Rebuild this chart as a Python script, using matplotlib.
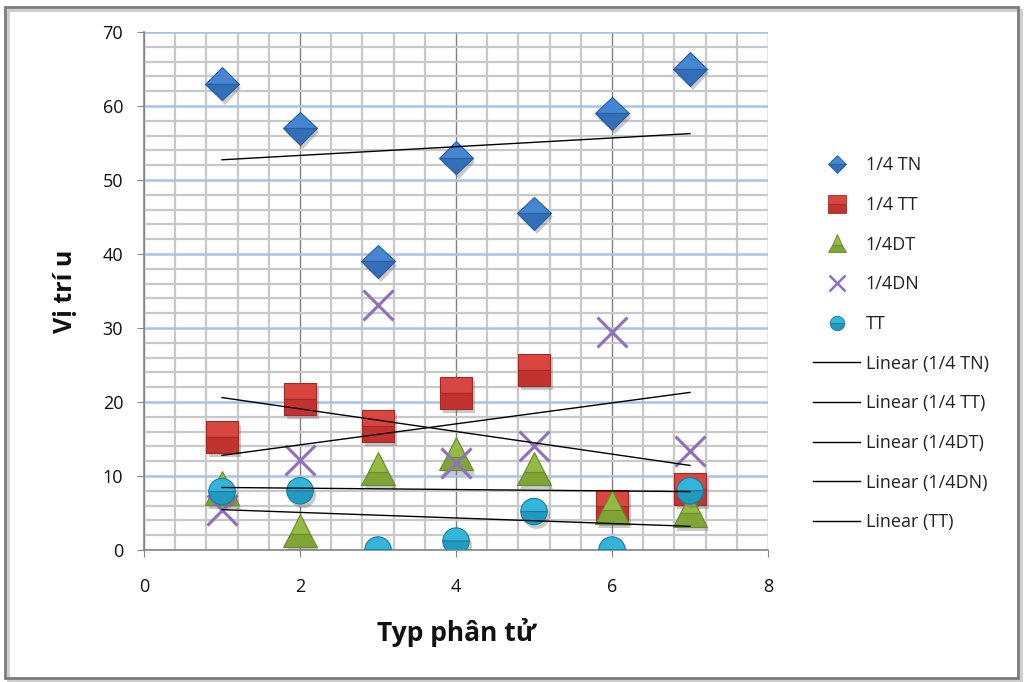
import numpy as np
import matplotlib
matplotlib.use("Agg")
import matplotlib.pyplot as plt
import matplotlib.patheffects as pe
from matplotlib.lines import Line2D
from matplotlib.patches import Rectangle
from matplotlib.ticker import MultipleLocator

plt.rcParams['font.family'] = ['Open Sans', 'DejaVu Sans']

x = [1, 2, 3, 4, 5, 6, 7]
tn_14 = [63, 57, 39, 53, 45.5, 59, 65]
tt_14 = [15.3, 20.4, 16.8, 21.2, 24.3, 5.9, 8.2]
dt_14 = [8.4, 2.6, 11, 13, 11, 5.8, 5.4]
dn_14 = [5.4, 12.1, 33.1, 11.8, 14, 29.5, 13.4]
tt = [7.9, 8.0, 0, 1.2, 5.2, 0, 8.0]

names = ['1/4 TN', '1/4 TT', '1/4DT', '1/4DN', 'TT']
series = [tn_14, tt_14, dt_14, dn_14, tt]
markers = ['D', 's', '^', 'x', 'o']
sizes = [17, 23, 24, 22, 19]
# light (upper half) and dark (lower half) tones for a bevelled look
light = ['#4586d2', '#d9453f', '#95ba44', '#9070ba', '#33b4da']
dark = ['#336fb8', '#c2332f', '#80a536', '#9070ba', '#2299be']
edges = ['#2a5d9e', '#a02a28', '#6a8a2a', '#9070ba', '#1a7c9c']

fig = plt.figure(figsize=(10.24, 6.82), dpi=100)
ax = fig.add_axes([144 / 1024, 132 / 682, 624 / 1024, 518 / 682])

ax.set_xlim(0, 8)
ax.set_ylim(0, 70)
ax.xaxis.set_major_locator(MultipleLocator(2))
ax.xaxis.set_minor_locator(MultipleLocator(0.4))
ax.yaxis.set_major_locator(MultipleLocator(10))
ax.yaxis.set_minor_locator(MultipleLocator(2))

ax.grid(which='minor', axis='both', color='#c8c8c8', lw=1.6)
ax.grid(which='major', axis='x', color='#808080', lw=1.0)
ax.grid(which='major', axis='y', color='#a9c1e4', lw=1.8)
ax.set_axisbelow(True)

for s in ['top', 'right']:
    ax.spines[s].set_visible(False)
for s in ['left', 'bottom']:
    ax.spines[s].set_color('#868686')
    ax.spines[s].set_linewidth(1.2)
ax.tick_params(which='major', direction='out', length=5, color='#868686',
               labelsize=13, labelcolor='#111111')
ax.tick_params(axis='y', pad=10)
ax.tick_params(axis='x', pad=15)
ax.tick_params(which='minor', length=0)

shadow = [pe.SimplePatchShadow(offset=(2, -3), shadow_rgbFace='#666666', alpha=0.35), pe.Normal()]

for ys, m, ms, lc, dc, ec in zip(series, markers, sizes, light, dark, edges):
    if m == 'x':
        ax.plot(x, ys, ls='none', marker=m, ms=ms, mew=2.2, color=lc, zorder=3)
    else:
        ax.plot(x, ys, ls='none', marker=m, ms=ms, fillstyle='top', mfc=lc,
                mfcalt=dc, mec=ec, mew=0.8, zorder=3, path_effects=shadow)

# linear trend lines for each series
xs = np.array([1, 7])
for ys in series:
    k, b = np.polyfit(x, ys, 1)
    ax.plot(xs, k * xs + b, color='black', lw=1.0, zorder=4)

ax.set_xlabel('Typ phân tử', fontsize=19, fontweight='bold', labelpad=16, color='#111111')
ax.set_ylabel('Vị trí u', fontsize=18, fontweight='bold', labelpad=18, color='#111111')

handles = []
for m, ms, lc, dc, ec in zip(markers, sizes, light, dark, edges):
    if m == 'x':
        handles.append(Line2D([], [], ls='none', marker=m, ms=ms * 0.55, mew=1.8, color=lc))
    else:
        handles.append(Line2D([], [], ls='none', marker=m, ms=ms * 0.55, fillstyle='top',
                              mfc=lc, mfcalt=dc, mec=ec, mew=0.6))
labels = list(names)
for n in names:
    handles.append(Line2D([], [], color='black', lw=1.0))
    labels.append('Linear (%s)' % n)

fig.legend(handles, labels, loc='upper left', bbox_to_anchor=(797 / 1024, 1 - 140 / 682),
           frameon=False, fontsize=13, handlelength=2.6, handletextpad=0.3,
           labelspacing=1.2, labelcolor='#222222')

# outer chart frame with a soft drop shadow
frame = Rectangle((5 / 1024, 4 / 682), 1013 / 1024, 671 / 682, transform=fig.transFigure,
                  fill=False, edgecolor='#7a7a7a', lw=2.0,
                  path_effects=[pe.SimpleLineShadow(offset=(2, -2), shadow_color='#aaaaaa', alpha=0.6),
                                pe.Normal()])
fig.patches.append(frame)

fig.savefig('out.png', dpi=100)
